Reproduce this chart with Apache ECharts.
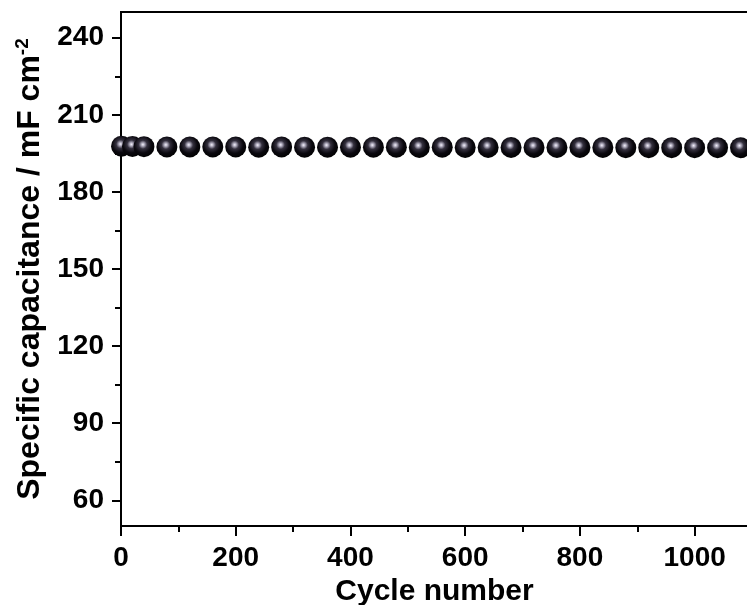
<!DOCTYPE html>
<html>
<head>
<meta charset="utf-8">
<script src="https://cdn.jsdelivr.net/npm/echarts@6/dist/echarts.min.js"></script>
<style>
html,body{margin:0;padding:0;background:#fff;}
#chart{width:747px;height:605px;}
</style>
</head>
<body>
<div id="chart"></div>
<script>
const cycles = [1, 20, 40, 80, 120, 160, 200, 240, 280, 320, 360, 400, 440, 480, 520, 560, 600, 640, 680, 720, 760, 800, 840, 880, 920, 960, 1000, 1040, 1080];
const capacitance = [197.8, 197.7, 197.6, 197.5, 197.5, 197.5, 197.5, 197.4, 197.5, 197.4, 197.4, 197.4, 197.4, 197.4, 197.3, 197.4, 197.3, 197.3, 197.3, 197.3, 197.3, 197.3, 197.3, 197.2, 197.2, 197.2, 197.2, 197.2, 197.2];
const yTicks = [60, 90, 120, 150, 180, 210, 240];
const yMinorTicks = [75, 105, 135, 165, 195, 225];
const xTitle = 'Cycle number';
const yTitle = 'Specific capacitance / mF cm{sup|-2}';

const FONT = "'Liberation Sans', Arial, sans-serif";
const chart = echarts.init(document.getElementById('chart'));

const sphere = {
  type: 'radial', x: 0.45, y: 0.4, r: 0.62,
  colorStops: [
    {offset: 0, color: '#f4f2fa'},
    {offset: 0.12, color: '#b4b0c2'},
    {offset: 0.33, color: '#34303e'},
    {offset: 0.65, color: '#0a080e'},
    {offset: 1, color: '#000000'}
  ]
};

chart.setOption({
  animation: false,
  backgroundColor: '#fff',
  grid: {
    left: 121, top: 12, bottom: 79, right: -5,
    outerBoundsMode: 'none', containLabel: false,
    show: true, borderColor: '#000', borderWidth: 2, backgroundColor: 'transparent'
  },
  xAxis: {
    type: 'value', min: 0, max: 1100, interval: 200,
    name: xTitle, nameLocation: 'middle', nameGap: 37,
    nameTextStyle: {fontFamily: FONT, fontWeight: 'bold', fontSize: 30, color: '#000', padding: [0, 4, 0, 0]},
    axisLine: {show: true, onZero: false, lineStyle: {color: '#000', width: 2}},
    axisTick: {show: true, length: 10, lineStyle: {color: '#000', width: 2}},
    minorTick: {show: true, splitNumber: 2, length: 6, lineStyle: {color: '#000', width: 2}},
    axisLabel: {margin: 18, fontFamily: FONT, fontWeight: 'bold', fontSize: 28, color: '#000',
      formatter: v => String(v)},
    splitLine: {show: false}
  },
  yAxis: [{
    type: 'value', min: 50, max: 250,
    name: yTitle, nameLocation: 'middle', nameGap: 58,
    nameTextStyle: {
      fontFamily: FONT, fontWeight: 'bold', fontSize: 32, color: '#000',
      rich: {sup: {fontFamily: FONT, fontWeight: 'bold', fontSize: 19, color: '#000', verticalAlign: 'top', padding: [0, 0, 15, 0]}}
    },
    axisLine: {show: true, onZero: false, lineStyle: {color: '#000', width: 2}},
    axisTick: {show: true, length: 9, customValues: yTicks, lineStyle: {color: '#000', width: 2}},
    axisLabel: {margin: 17, customValues: yTicks, fontFamily: FONT, fontWeight: 'bold', fontSize: 28, color: '#000'},
    splitLine: {show: false}
  }, {
    type: 'value', min: 50, max: 250, position: 'left',
    axisLine: {show: false},
    axisTick: {show: true, length: 6, customValues: yMinorTicks, lineStyle: {color: '#000', width: 2}},
    axisLabel: {show: false},
    splitLine: {show: false}
  }],
  series: [{
    type: 'scatter',
    yAxisIndex: 0,
    symbol: 'circle',
    symbolSize: 21,
    data: cycles.map((c, i) => [c, capacitance[i]]),
    itemStyle: {color: sphere, opacity: 1},
    emphasis: {disabled: true}
  }]
});
</script>
</body>
</html>
